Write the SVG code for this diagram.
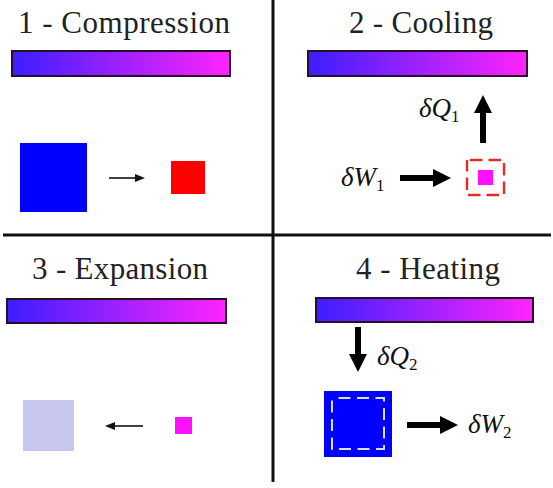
<svg xmlns="http://www.w3.org/2000/svg" width="553" height="488" viewBox="0 0 553 488">
<style>
.title{font-family:"Liberation Serif","DejaVu Serif",serif;font-size:31px;fill:#222}
.math{font-family:"Liberation Serif","DejaVu Serif",serif;font-size:27px;font-style:italic;fill:#111}
.sub{font-style:normal;font-size:17px}
.bar{fill:url(#grad);stroke:#2a0f2a;stroke-width:2}
.div{stroke:#111;stroke-width:3}
.thin{stroke:#111;stroke-width:1.6;fill:none}
.thick{stroke:#000;stroke-width:6;fill:none}
</style>
<defs>
<linearGradient id="grad" x1="0" y1="0" x2="1" y2="0">
<stop offset="0" stop-color="#3c1eff"/>
<stop offset="1" stop-color="#ff24ff"/>
</linearGradient>
<marker id="ah" markerUnits="userSpaceOnUse" markerWidth="10" markerHeight="8" refX="4" refY="4" orient="auto">
<path d="M0,0 L10,4 L0,8 z" fill="#111"/>
</marker>
<marker id="AH" markerUnits="userSpaceOnUse" markerWidth="18" markerHeight="18" refX="2" refY="9" orient="auto">
<path d="M0,0 L18,9 L0,18 z" fill="#000"/>
</marker>
</defs>
<rect width="553" height="488" fill="#fff"/>
<g id="dividers">
<line class="div" x1="273" y1="0" x2="273" y2="482"/>
<line class="div" x1="3" y1="235" x2="551" y2="235"/>
</g>
<g id="q1">
<text class="title" x="18" y="33" textLength="212">1 - Compression</text>
<rect class="bar" x="12" y="51" width="218" height="25"/>
<rect x="20" y="143" width="67" height="69" fill="#0000ff"/>
<rect x="171" y="161" width="34" height="33" fill="#ff0000"/>
</g>
<g id="q2">
<text class="title" x="349" y="33" textLength="144">2 - Cooling</text>
<rect class="bar" x="308" y="51" width="219" height="25"/>
<rect x="467" y="160" width="37" height="35" fill="none" stroke="#e52a2a" stroke-width="2.4" stroke-dasharray="12.5 6" stroke-dashoffset="15.5"/>
<rect x="478" y="170" width="15" height="15" fill="#ff10ff"/>
<text class="math" x="419" y="117">δQ<tspan class="sub" dy="5">1</tspan></text>
<text class="math" x="341" y="186">δW<tspan class="sub" dy="5">1</tspan></text>
</g>
<g id="q3">
<text class="title" x="32" y="279" textLength="176">3 - Expansion</text>
<rect class="bar" x="7" y="299" width="219" height="24"/>
<rect x="23" y="400" width="51" height="51" fill="#c8c8ef"/>
<rect x="175" y="417" width="17" height="17" fill="#ff10ff"/>
</g>
<g id="q4">
<text class="title" x="356" y="279" textLength="144">4 - Heating</text>
<rect class="bar" x="316" y="298" width="217" height="24"/>
<rect x="324" y="391" width="68" height="66" fill="#0000ff"/>
<rect x="332" y="398" width="52" height="51" fill="none" stroke="#dde" stroke-width="2" stroke-dasharray="12 6.5" stroke-dashoffset="12"/>
<text class="math" x="377" y="365">δQ<tspan class="sub" dy="5">2</tspan></text>
<text class="math" x="468" y="433">δW<tspan class="sub" dy="5">2</tspan></text>
</g>
<g id="connectors">
<line class="thin" x1="109" y1="178" x2="139" y2="178" marker-end="url(#ah)"/>
<line class="thin" x1="143" y1="426" x2="111" y2="426" marker-end="url(#ah)"/>
<line class="thick" x1="483" y1="143" x2="483" y2="111" marker-end="url(#AH)"/>
<line class="thick" x1="400" y1="178" x2="435" y2="178" marker-end="url(#AH)"/>
<line class="thick" x1="358" y1="327" x2="358" y2="356" marker-end="url(#AH)"/>
<line class="thick" x1="407" y1="425" x2="442" y2="425" marker-end="url(#AH)"/>
</g>
</svg>
